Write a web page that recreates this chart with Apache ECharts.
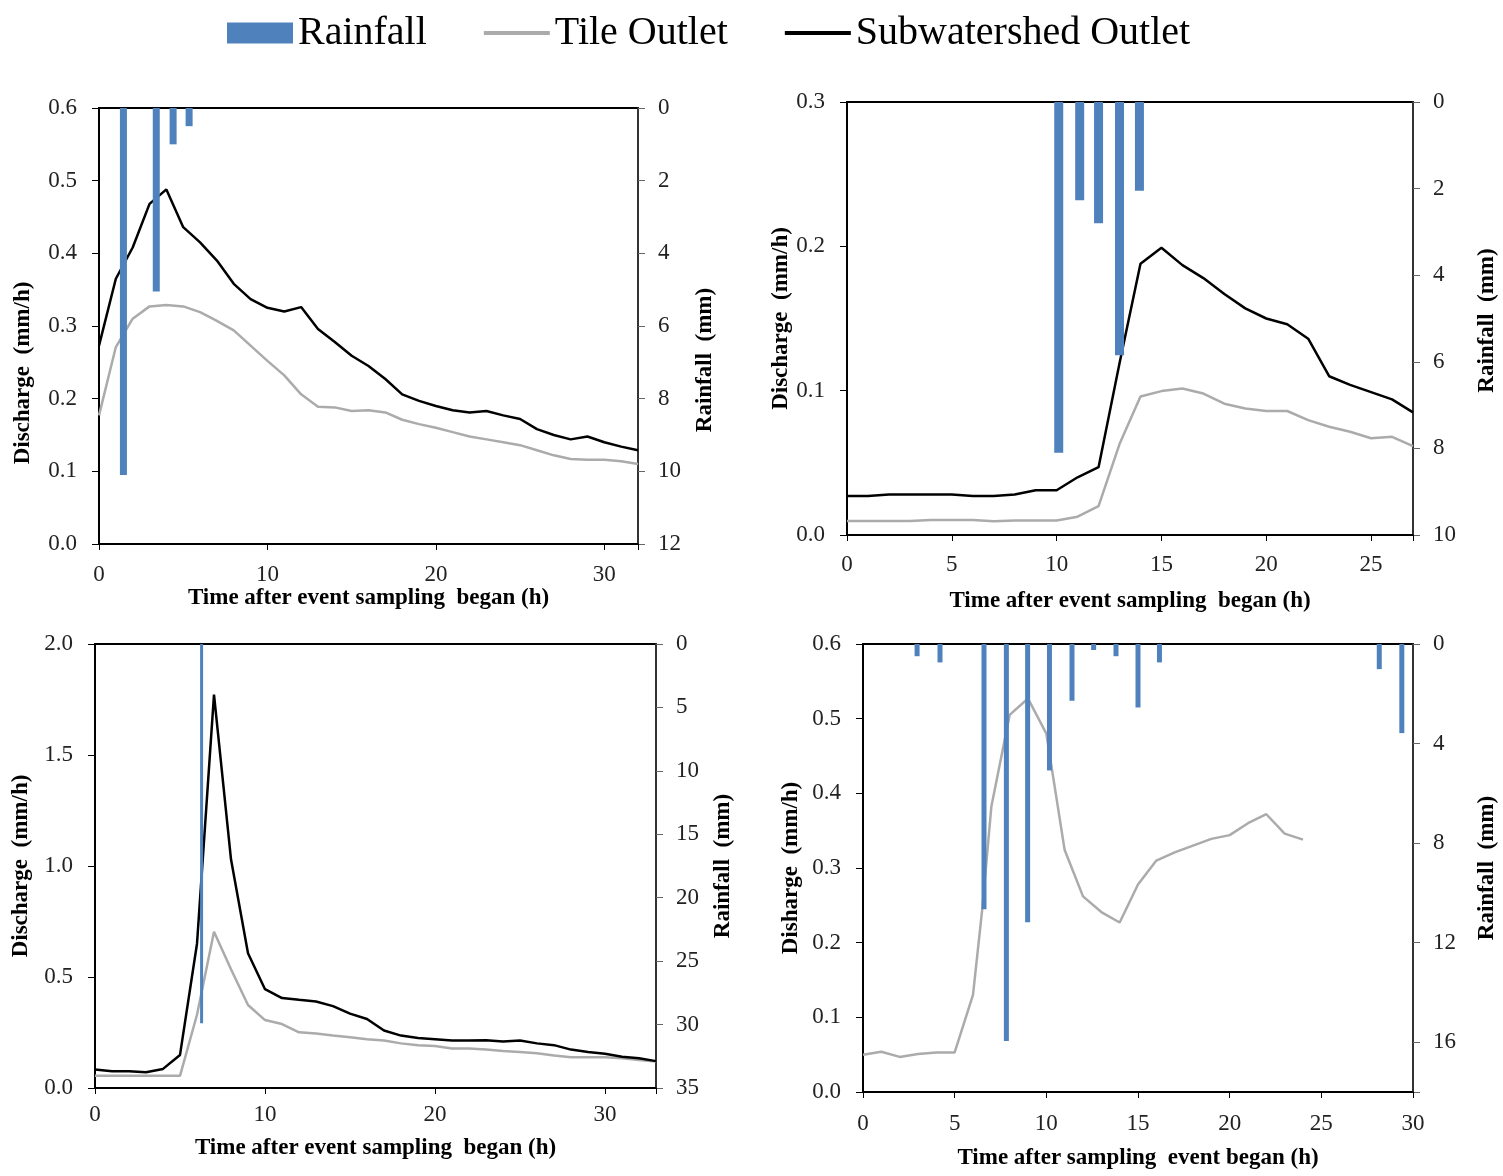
<!DOCTYPE html>
<html>
<head>
<meta charset="utf-8">
<script src="https://cdn.jsdelivr.net/npm/echarts@6.0.0/dist/echarts.min.js"></script>
<style>
  html, body { margin: 0; padding: 0; background: #fff; }
  #chart { width: 1503px; height: 1176px; }
</style>
</head>
<body>
<div id="chart"></div>
<script>
// ---- data ----
// panel A (top left)
var hoursA = [0, 1, 2, 3, 4, 5, 6, 7, 8, 9, 10, 11, 12, 13, 14, 15, 16, 17, 18, 19, 20, 21, 22, 23, 24, 25, 26, 27, 28, 29, 30, 31, 32];
var tileA = [0.177, 0.271, 0.310, 0.327, 0.329, 0.327, 0.319, 0.307, 0.294, 0.273, 0.252, 0.232, 0.206, 0.189, 0.188, 0.183, 0.184, 0.181, 0.171, 0.165, 0.160, 0.154, 0.148, 0.144, 0.140, 0.136, 0.129, 0.122, 0.117, 0.116, 0.116, 0.114, 0.110];
var subA = [0.273, 0.365, 0.408, 0.468, 0.488, 0.436, 0.415, 0.390, 0.358, 0.337, 0.325, 0.320, 0.326, 0.296, 0.278, 0.259, 0.245, 0.227, 0.206, 0.197, 0.190, 0.184, 0.181, 0.183, 0.177, 0.172, 0.158, 0.150, 0.144, 0.148, 0.140, 0.134, 0.129];
var rainTimeA = [1.45, 3.4, 4.4, 5.35];
var rainA = [10.1, 5.05, 1.0, 0.5];

// panel B (top right)
var hoursB = [0, 1, 2, 3, 4, 5, 6, 7, 8, 9, 10, 11, 12, 13, 14, 15, 16, 17, 18, 19, 20, 21, 22, 23, 24, 25, 26, 27];
var tileB = [0.0097, 0.0097, 0.0097, 0.0097, 0.0104, 0.0104, 0.0104, 0.0095, 0.010, 0.010, 0.010, 0.0127, 0.020, 0.063, 0.096, 0.0997, 0.1015, 0.098, 0.091, 0.0877, 0.0859, 0.0859, 0.0796, 0.075, 0.0715, 0.067, 0.068, 0.0616];
var subB = [0.027, 0.027, 0.028, 0.028, 0.028, 0.028, 0.027, 0.027, 0.028, 0.031, 0.031, 0.040, 0.047, 0.119, 0.188, 0.199, 0.187, 0.178, 0.167, 0.157, 0.150, 0.146, 0.136, 0.110, 0.104, 0.099, 0.094, 0.085];
var rainTimeB = [10.1, 11.1, 12.0, 13.0, 13.95];
var rainB = [8.1, 2.27, 2.8, 5.85, 2.05];

// panel C (bottom left)
var hoursC = [0, 1, 2, 3, 4, 5, 6, 7, 8, 9, 10, 11, 12, 13, 14, 15, 16, 17, 18, 19, 20, 21, 22, 23, 24, 25, 26, 27, 28, 29, 30, 31, 32, 33];
var tileC = [0.055, 0.055, 0.055, 0.055, 0.055, 0.055, 0.33, 0.704, 0.535, 0.374, 0.306, 0.288, 0.251, 0.245, 0.236, 0.229, 0.220, 0.214, 0.201, 0.193, 0.189, 0.178, 0.178, 0.173, 0.167, 0.162, 0.157, 0.146, 0.138, 0.138, 0.138, 0.134, 0.126, 0.119];
var subC = [0.083, 0.075, 0.075, 0.071, 0.086, 0.149, 0.65, 1.772, 1.03, 0.607, 0.445, 0.405, 0.397, 0.390, 0.369, 0.335, 0.311, 0.259, 0.236, 0.225, 0.220, 0.214, 0.214, 0.215, 0.209, 0.214, 0.201, 0.193, 0.173, 0.162, 0.154, 0.141, 0.134, 0.121];
var rainTimeC = [6.27];
var rainC = [29.9];

// panel D (bottom right) - tile outlet only
var hoursD = [0, 1, 2, 3, 4, 5, 6, 6.5, 7, 8, 9, 10, 11, 12, 13, 14, 15, 16, 17, 18, 19, 20, 21, 22, 23, 24];
var tileD = [0.050, 0.054, 0.047, 0.051, 0.053, 0.053, 0.13, 0.244, 0.382, 0.505, 0.527, 0.48, 0.324, 0.262, 0.241, 0.227, 0.278, 0.31, 0.321, 0.33, 0.339, 0.344, 0.36, 0.372, 0.346, 0.338];
var rainTimeD = [2.95, 4.2, 6.6, 7.82, 8.98, 10.17, 11.4, 12.58, 13.8, 15.0, 16.17, 28.16, 29.39];
var rainD = [0.49, 0.74, 10.66, 15.95, 11.18, 5.08, 2.28, 0.24, 0.49, 2.55, 0.74, 1.01, 3.58];

// ---- layout / styling ----
var FONT = '"Liberation Serif", "Times New Roman", serif';
var RAIN = '#4F81BD', TILE = '#ABABAB', SUB = '#000000';
var LINE_ICON = 'path://M0,0H66V4H0Z';

var panels = [
  { grid: {left: 99, top: 108, width: 539, height: 436},
    xMax: 32, xStep: 10, yMax: 0.6, yStep: 0.1, rMax: 12, rStep: 2,
    barW: 7, xGap: 41, xMargin: 19, lGap: 64, rGap: 56, lShift: 47, rShift: 34,
    yName: 'Discharge  (mm/h)', xName: 'Time after event sampling  began (h)',
    t: hoursA, tile: tileA, sub: subA, rt: rainTimeA, r: rainA },
  { grid: {left: 847, top: 102, width: 566, height: 433},
    xMax: 27, xStep: 5, yMax: 0.3, yStep: 0.1, rMax: 10, rStep: 2,
    barW: 9, xGap: 55, xMargin: 18, lGap: 54, rGap: 63, lShift: 0, rShift: 2,
    yName: 'Discharge  (mm/h)', xName: 'Time after event sampling  began (h)',
    t: hoursB, tile: tileB, sub: subB, rt: rainTimeB, r: rainB },
  { grid: {left: 95, top: 644, width: 561, height: 444},
    xMax: 33, xStep: 10, yMax: 2.0, yStep: 0.5, rMax: 35, rStep: 5,
    barW: 3, xGap: 49, xMargin: 15, lGap: 62, rGap: 56, lShift: 0, rShift: 0,
    yName: 'Discharge  (mm/h)', xName: 'Time after event sampling  began (h)',
    t: hoursC, tile: tileC, sub: subC, rt: rainTimeC, r: rainC },
  { grid: {left: 863, top: 644, width: 550, height: 448},
    xMax: 30, xStep: 5, yMax: 0.6, yStep: 0.1, rMax: 18, rStep: 4,
    barW: 5, xGap: 55, xMargin: 20, lGap: 60, rGap: 63, lShift: 0, rShift: 0,
    yName: 'Disharge  (mm/h)', xName: 'Time after sampling  event began (h)',
    t: hoursD, tile: tileD, sub: null, rt: rainTimeD, r: rainD }
];

function pairs(xs, ys) {
  var out = [];
  for (var i = 0; i < xs.length; i++) out.push([xs[i], ys[i]]);
  return out;
}

function onStep(v, step) {
  var k = v / step;
  return Math.abs(k - Math.round(k)) < 1e-6;
}

var labelStyle = { color: '#222', fontFamily: FONT, fontSize: 23 };
var nameStyle = { color: '#000', fontFamily: FONT, fontSize: 23, fontWeight: 'bold' };

var grids = [], xAxes = [], yAxes = [], series = [];

panels.forEach(function (p, i) {
  grids.push(Object.assign({ show: true, borderColor: '#000', borderWidth: 2, containLabel: false }, p.grid));

  xAxes.push({
    type: 'value', gridIndex: i, min: 0, max: p.xMax, interval: p.xStep,
    name: p.xName, nameLocation: 'middle', nameGap: p.xGap, nameTextStyle: nameStyle,
    axisLine: { show: true, lineStyle: { color: '#000', width: 1.5 } },
    axisTick: { show: true, length: 6, lineStyle: { color: '#000' } },
    axisLabel: Object.assign({ margin: p.xMargin, formatter: function (v) { return onStep(v, p.xStep) ? String(v) : ''; } }, labelStyle),
    splitLine: { show: false }
  });

  yAxes.push({
    type: 'value', gridIndex: i, position: 'left', min: 0, max: p.yMax, interval: p.yStep,
    name: p.yName, nameLocation: 'middle', nameGap: p.lGap,
    nameTextStyle: Object.assign({ padding: [0, p.lShift * 2, 0, 0] }, nameStyle),
    axisLine: { show: true, onZero: false, lineStyle: { color: '#000', width: 1.5 } },
    axisTick: { show: true, length: 7, lineStyle: { color: '#000' } },
    axisLabel: Object.assign({ margin: 22, formatter: function (v) { return v.toFixed(1); } }, labelStyle),
    splitLine: { show: false }
  });

  yAxes.push({
    type: 'value', gridIndex: i, position: 'right', inverse: true, min: 0, max: p.rMax, interval: p.rStep,
    name: 'Rainfall  (mm)', nameLocation: 'middle', nameGap: p.rGap,
    nameTextStyle: Object.assign({ padding: [0, p.rShift * 2, 0, 0] }, nameStyle),
    axisLine: { show: true, onZero: false, lineStyle: { color: '#444', width: 1.5 } },
    axisTick: { show: true, length: 7, lineStyle: { color: '#666' } },
    axisLabel: Object.assign({ margin: 20, formatter: function (v) { return onStep(v, p.rStep) ? String(v) : ''; } }, labelStyle),
    splitLine: { show: false }
  });

  series.push({
    name: 'Tile Outlet', type: 'line', xAxisIndex: i, yAxisIndex: 2 * i,
    symbol: 'none', data: pairs(p.t, p.tile), z: 2,
    lineStyle: { color: TILE, width: 2.5 }, itemStyle: { color: TILE }
  });
  if (p.sub) {
    series.push({
      name: 'Subwatershed Outlet', type: 'line', xAxisIndex: i, yAxisIndex: 2 * i,
      symbol: 'none', data: pairs(p.t, p.sub), z: 3,
      lineStyle: { color: SUB, width: 2.5 }, itemStyle: { color: SUB }
    });
  }
  series.push({
    name: 'Rainfall', type: 'bar', xAxisIndex: i, yAxisIndex: 2 * i + 1,
    barWidth: p.barW, data: pairs(p.rt, p.r), z: 4,
    itemStyle: { color: RAIN }
  });
});

var myChart = echarts.init(document.getElementById('chart'), null, { renderer: 'canvas' });
myChart.setOption({
  backgroundColor: '#fff',
  animation: false,
  legend: {
    left: 222, top: 8, itemWidth: 66, itemHeight: 21, itemGap: 57,
    textStyle: { color: '#000', fontFamily: FONT, fontSize: 40 },
    data: [
      { name: 'Rainfall', icon: 'rect' },
      { name: 'Tile Outlet', icon: LINE_ICON, itemStyle: { color: TILE } },
      { name: 'Subwatershed Outlet', icon: LINE_ICON, itemStyle: { color: SUB } }
    ]
  },
  grid: grids,
  xAxis: xAxes,
  yAxis: yAxes,
  series: series
});
window.addEventListener('resize', function () { myChart.resize(); });
</script>
</body>
</html>
